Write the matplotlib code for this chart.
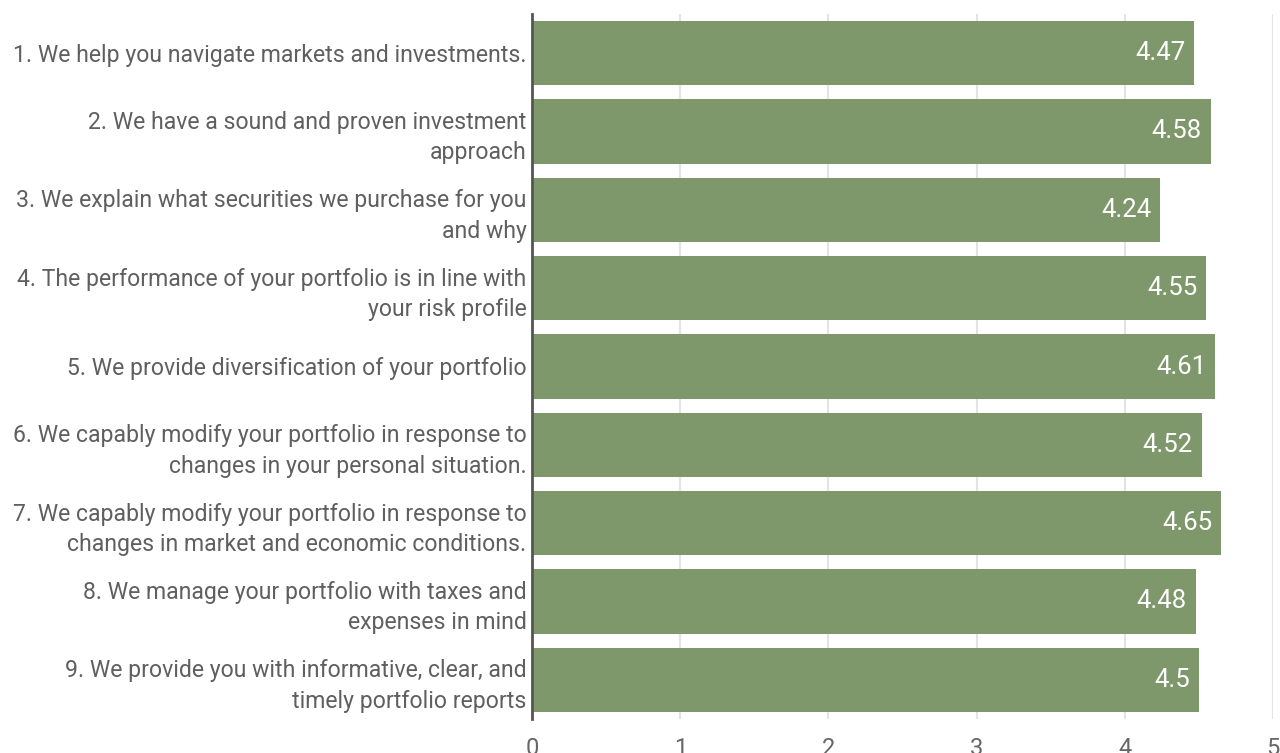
import matplotlib.pyplot as plt

labels = [
    "1. We help you navigate markets and investments.",
    "2. We have a sound and proven investment\napproach",
    "3. We explain what securities we purchase for you\nand why",
    "4. The performance of your portfolio is in line with\nyour risk profile",
    "5. We provide diversification of your portfolio",
    "6. We capably modify your portfolio in response to\nchanges in your personal situation.",
    "7. We capably modify your portfolio in response to\nchanges in market and economic conditions.",
    "8. We manage your portfolio with taxes and\nexpenses in mind",
    "9. We provide you with informative, clear, and\ntimely portfolio reports",
]
scores = [4.47, 4.58, 4.24, 4.55, 4.61, 4.52, 4.65, 4.48, 4.5]
value_text = ["4.47", "4.58", "4.24", "4.55", "4.61", "4.52", "4.65", "4.48", "4.5"]
x_ticks = [0, 1, 2, 3, 4, 5]

plt.rcParams["font.family"] = ["Roboto", "DejaVu Sans"]

fig = plt.figure(figsize=(12.8, 7.53), dpi=100)
ax = fig.add_axes([532 / 1280, 1 - 719 / 753, (1273 - 532) / 1280, (719 - 14) / 753])

ypos = list(range(len(labels)))
bars = ax.barh(ypos, scores, height=0.82, color="#7f986b", zorder=2)
for bar, txt in zip(bars, value_text):
    ax.annotate(
        txt,
        (bar.get_width(), bar.get_y() + bar.get_height() / 2),
        xytext=(-6.5, 0),
        textcoords="offset points",
        ha="right",
        va="center",
        color="white",
        fontsize=18.5,
        zorder=3,
    )

ax.set_xlim(0, 5)
ax.set_ylim(len(labels) - 0.5, -0.5)
ax.set_xticks(x_ticks)
ax.set_xticklabels([str(t) for t in x_ticks])
ax.set_yticks(ypos)
ax.set_yticklabels(labels, fontsize=16.6, color="#5f5f5f", linespacing=1.4)
ax.tick_params(axis="x", length=0, pad=13, labelsize=17, labelcolor="#666666")
ax.tick_params(axis="y", length=0, pad=4)
ax.grid(axis="x", color="#e3e3e3", linewidth=1.5, zorder=0)
ax.set_axisbelow(True)
for side in ("top", "right", "bottom"):
    ax.spines[side].set_visible(False)
ax.spines["left"].set_color("#555555")
ax.spines["left"].set_linewidth(2)
ax.spines["left"].set_zorder(4)

fig.savefig("out.png", dpi=100)
